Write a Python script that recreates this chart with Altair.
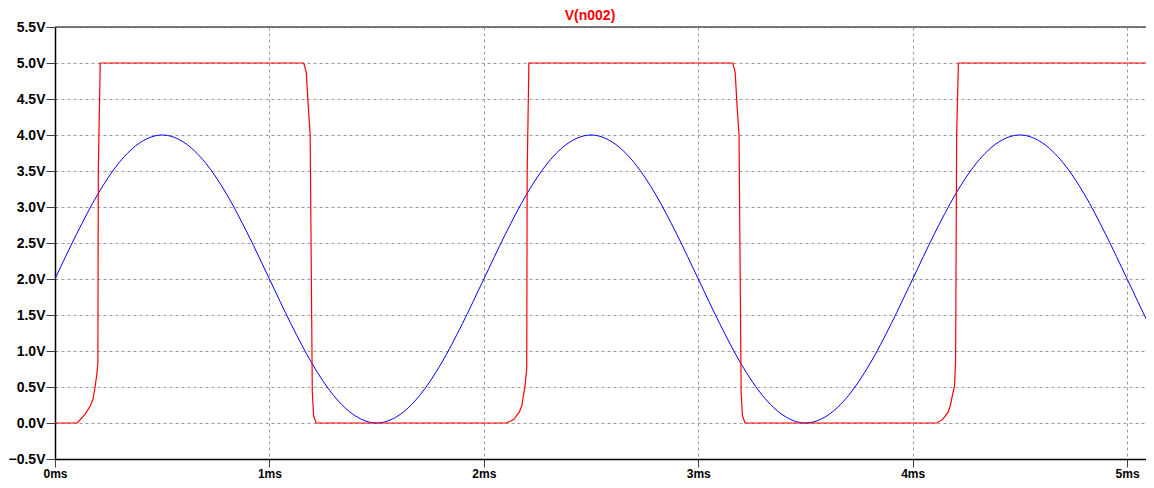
import altair as alt
import pandas as pd

blue_t = [round(i * 0.1, 1) for i in range(53)]
blue_v = [2.00, 2.62, 3.18, 3.62, 3.90, 4.00, 3.90, 3.62, 3.18, 2.62,
          2.00, 1.38, 0.82, 0.38, 0.10, 0.00, 0.10, 0.38, 0.82, 1.38,
          2.00, 2.62, 3.18, 3.62, 3.90, 4.00, 3.90, 3.62, 3.18, 2.62,
          2.00, 1.38, 0.82, 0.38, 0.10, 0.00, 0.10, 0.38, 0.82, 1.38,
          2.00, 2.62, 3.18, 3.62, 3.90, 4.00, 3.90, 3.62, 3.18, 2.62,
          2.00, 1.38, 0.82]

# Red trace V(n002) (comparator output), breakpoints
red_t = [0.0, 0.104, 0.14, 0.165, 0.177, 0.187, 0.196, 0.200, 0.202, 0.211,
         1.160, 1.172, 1.180, 1.190, 1.200, 1.206, 1.218,
         2.107, 2.14, 2.165, 2.177, 2.192, 2.200, 2.202, 2.210,
         3.161, 3.172, 3.180, 3.190, 3.200, 3.206, 3.218,
         4.112, 4.14, 4.165, 4.175, 4.195, 4.200, 4.205, 4.213, 5.2]
red_v = [0.0, 0.0, 0.12, 0.24, 0.33, 0.5, 0.7, 0.85, 3.5, 5.0,
         5.0, 4.87, 4.45, 4.0, 0.43, 0.1, 0.0,
         0.0, 0.05, 0.15, 0.24, 0.52, 0.75, 3.45, 5.0,
         5.0, 4.87, 4.45, 4.0, 0.43, 0.1, 0.0,
         0.0, 0.05, 0.15, 0.24, 0.52, 0.85, 4.0, 5.0, 5.0]

y_ticks = [-0.5, 0.0, 0.5, 1.0, 1.5, 2.0, 2.5, 3.0, 3.5, 4.0, 4.5, 5.0, 5.5]
x_ticks = [0, 1, 2, 3, 4, 5]
title_text = "V(n002)"

X_MAX = 5.088
FONT = "Liberation Sans"

blue_df = pd.DataFrame({"t": blue_t, "v": blue_v})
red_df = pd.DataFrame({"t": red_t, "v": red_v})

xscale = alt.Scale(domain=[0, X_MAX], nice=False, zero=False)
yscale = alt.Scale(domain=[-0.5, 5.5], nice=False, zero=False)

xaxis = alt.Axis(values=x_ticks, labelExpr="datum.value + 'ms'", title=None,
                 grid=True, gridDash=[3, 3], gridColor="#9a9a9a", gridOpacity=1,
                 domainColor="#000000", domainWidth=1.5, tickColor="#404040",
                 tickSize=8, labelPadding=1, labelFont=FONT, labelFontSize=12,
                 labelFontWeight="bold", labelColor="#000000", labelBaseline="top",
                 labelOverlap=False, labelFlush=False)
yaxis = alt.Axis(values=y_ticks, labelExpr="format(datum.value, '.1f') + 'V'", title=None,
                 grid=True, gridDash=[3, 3], gridColor="#9a9a9a", gridOpacity=1,
                 domainColor="#000000", domainWidth=1.5, tickColor="#404040",
                 tickSize=9, labelPadding=1, labelFont=FONT, labelFontSize=14,
                 labelFontWeight="bold", labelColor="#000000", labelBaseline="middle",
                 labelOverlap=False, labelFlush=False, labelBound=False)

blue = alt.Chart(blue_df).mark_line(color="#0000ff", strokeWidth=1,
                                    interpolate="monotone", clip=True).encode(
    x=alt.X("t:Q", scale=xscale, axis=xaxis),
    y=alt.Y("v:Q", scale=yscale, axis=yaxis),
)

red = alt.Chart(red_df).mark_line(color="#ff0000", strokeWidth=1.2,
                                  clip=True).encode(
    x=alt.X("t:Q", scale=xscale, axis=xaxis),
    y=alt.Y("v:Q", scale=yscale, axis=yaxis),
)

top_border = alt.Chart(pd.DataFrame({"a": [0]})).mark_rule(
    color="#505050", strokeWidth=1.5).encode(
    x=alt.value(0), x2=alt.value(1091), y=alt.value(0))

title = alt.Chart(pd.DataFrame({"txt": [title_text]})).mark_text(
    color="#ff0000", font=FONT, fontSize=14, fontWeight="bold",
    align="center", baseline="middle").encode(
    x=alt.value(535), y=alt.value(-11), text="txt:N")

chart = alt.layer(blue, red, top_border, title).properties(
    width=1091, height=432,
    autosize=alt.AutoSizeParams(type="none"),
    padding={"left": 47, "top": 19, "right": 0, "bottom": 21},
    background="#ffffff",
).configure_view(stroke=None).configure_axis(labelOverlap=False)

chart.save("out.html", embed_options={"renderer": "svg", "actions": False})
